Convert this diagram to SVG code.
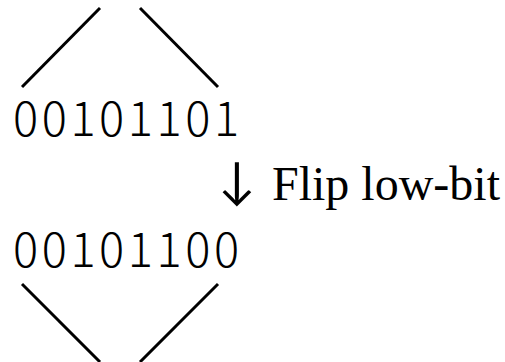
<svg xmlns="http://www.w3.org/2000/svg" width="505" height="362" viewBox="0 0 505 362">
<style>
.bits{font-family:"Noto Sans CJK JP","Liberation Mono",monospace;font-weight:300;font-size:47px;fill:#000}
.lbl{font-family:"Liberation Serif","Times New Roman",serif;font-size:48px;fill:#000}
.arr{font-family:Lato,"DejaVu Sans",sans-serif;font-size:50px}
.edge{stroke:#000;stroke-width:3;fill:none}
</style>
<rect width="505" height="362" fill="#fff"/>
<g id="connectors">
<line class="edge" x1="100" y1="8" x2="22" y2="87"/>
<line class="edge" x1="140" y1="8" x2="218" y2="87"/>
<line class="edge" x1="22" y1="284" x2="100" y2="362"/>
<line class="edge" x1="218" y1="284" x2="140" y2="362"/>
</g>
<g id="node-top"><text class="bits" x="13 41.7 70.4 99.1 127.8 156.5 185.2 213.9" y="136">00101101</text></g>
<g id="node-flip"><text class="lbl" y="200"><tspan class="arr" x="218" y="198">↓ </tspan><tspan x="272" y="200">Flip low-bit</tspan></text></g>
<g id="node-bottom"><text class="bits" x="13 41.7 70.4 99.1 127.8 156.5 185.2 213.9" y="267">00101100</text></g>
</svg>
